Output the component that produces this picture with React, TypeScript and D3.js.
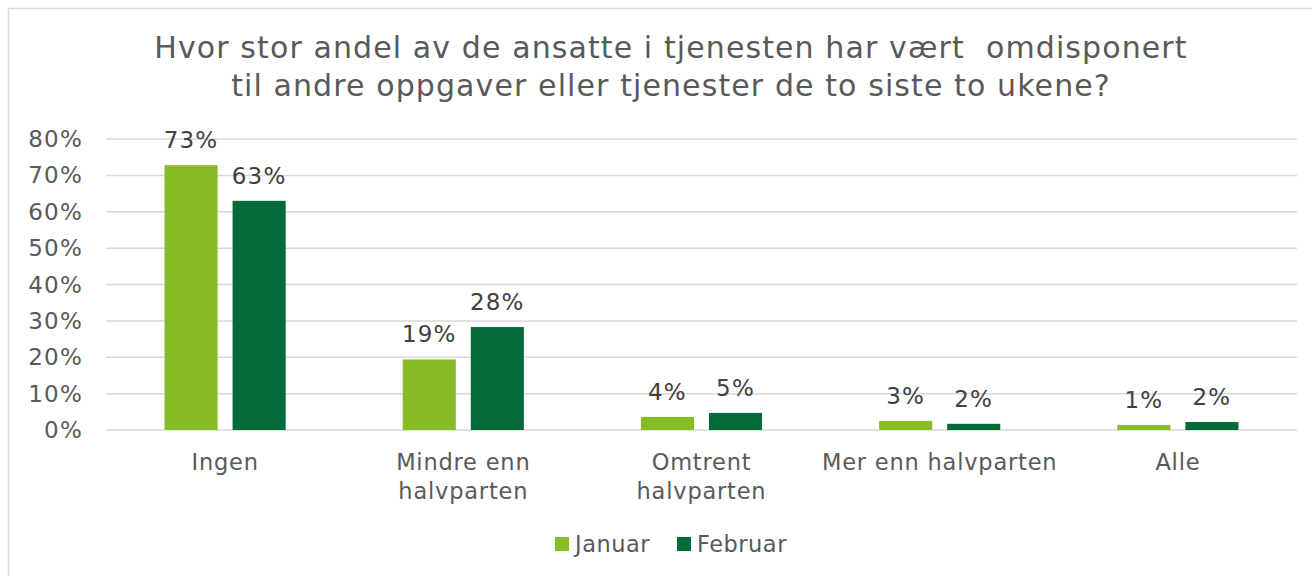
import * as React from 'react';
import * as d3 from 'd3';

const categories = ['Ingen', 'Mindre enn\nhalvparten', 'Omtrent\nhalvparten', 'Mer enn halvparten', 'Alle'];
const seriesNames = ['Januar', 'Februar'];
const januar = [0.728, 0.194, 0.036, 0.025, 0.014];
const februar = [0.63, 0.283, 0.047, 0.017, 0.022];
const yTicks = [0, 0.1, 0.2, 0.3, 0.4, 0.5, 0.6, 0.7, 0.8];
const titleLines = ['Hvor stor andel av de ansatte i tjenesten har vært  omdisponert', 'til andre oppgaver eller tjenester de to siste to ukene?'];

const colors = {Januar: '#86BC25', Februar: '#046A38'};
const font = '"DejaVu Sans", Verdana, sans-serif';

const App = () => {
    const width = 1312;
    const height = 576;
    const left = 106;
    const right = 1297;
    const top = 139;
    const bottom = 430;

    const yScale = d3.scaleLinear().domain([0, 0.8]).range([bottom, top]);
    const xScale = d3.scaleBand().domain(categories).range([left, right]).padding(0);
    const inner = d3.scaleBand().domain(seriesNames)
        .range([0, xScale.bandwidth()])
        .paddingInner(0.22)
        .paddingOuter(0.86);
    const fmt = d3.format('.0%');

    const series = [
        {name: 'Januar', values: januar},
        {name: 'Februar', values: februar},
    ];

    return (
        <svg width={width} height={height} style={{position: 'absolute', left: 0, top: 0, display: 'block'}} fontFamily={font}>
            <rect x={8.5} y={8.5} width={1340} height={600} fill="#fff" stroke="#D9D9D9" strokeWidth={1.5} />

            {titleLines.map((t, i) => (
                <text key={i} x={671} y={58 + i * 38} textAnchor="middle" fontSize={30} letterSpacing={1.1} fill="#595959" style={{whiteSpace: 'pre'}}>{t}</text>
            ))}

            {yTicks.map((t) => (
                <g key={t}>
                    <line x1={left} x2={right} y1={yScale(t)} y2={yScale(t)} stroke="#D9D9D9" strokeWidth={1.5} />
                    <text x={83} y={yScale(t) + 8} textAnchor="end" fontSize={23} letterSpacing={1.2} fill="#595959">{d3.format('.0%')(t)}</text>
                </g>
            ))}

            {series.map((s) => (
                <g key={s.name}>
                    {s.values.map((v, i) => {
                        const x = xScale(categories[i]) + inner(s.name);
                        return (
                            <g key={i}>
                                <rect x={x} y={yScale(v)} width={inner.bandwidth()} height={bottom - yScale(v)} fill={colors[s.name]} />
                                <text x={x + inner.bandwidth() / 2} y={yScale(v) - 17} textAnchor="middle" fontSize={23} letterSpacing={1.2} fill="#404040">{fmt(v)}</text>
                            </g>
                        );
                    })}
                </g>
            ))}

            {categories.map((c) => (
                <text key={c} x={xScale(c) + xScale.bandwidth() / 2} y={470} textAnchor="middle" fontSize={22.5} letterSpacing={0.8} fill="#595959">
                    {c.split('\n').map((line, j) => (
                        <tspan key={j} x={xScale(c) + xScale.bandwidth() / 2} dy={j === 0 ? 0 : 29}>{line}</tspan>
                    ))}
                </text>
            ))}

            {seriesNames.map((n, i) => {
                const lx = i === 0 ? 555 : 677;
                return (
                    <g key={n}>
                        <rect x={lx} y={537} width={14} height={14} fill={colors[n]} />
                        <text x={lx + 20} y={552} fontSize={22.5} letterSpacing={0.5} fill="#595959">{n}</text>
                    </g>
                );
            })}
        </svg>
    );
};

export default App;
